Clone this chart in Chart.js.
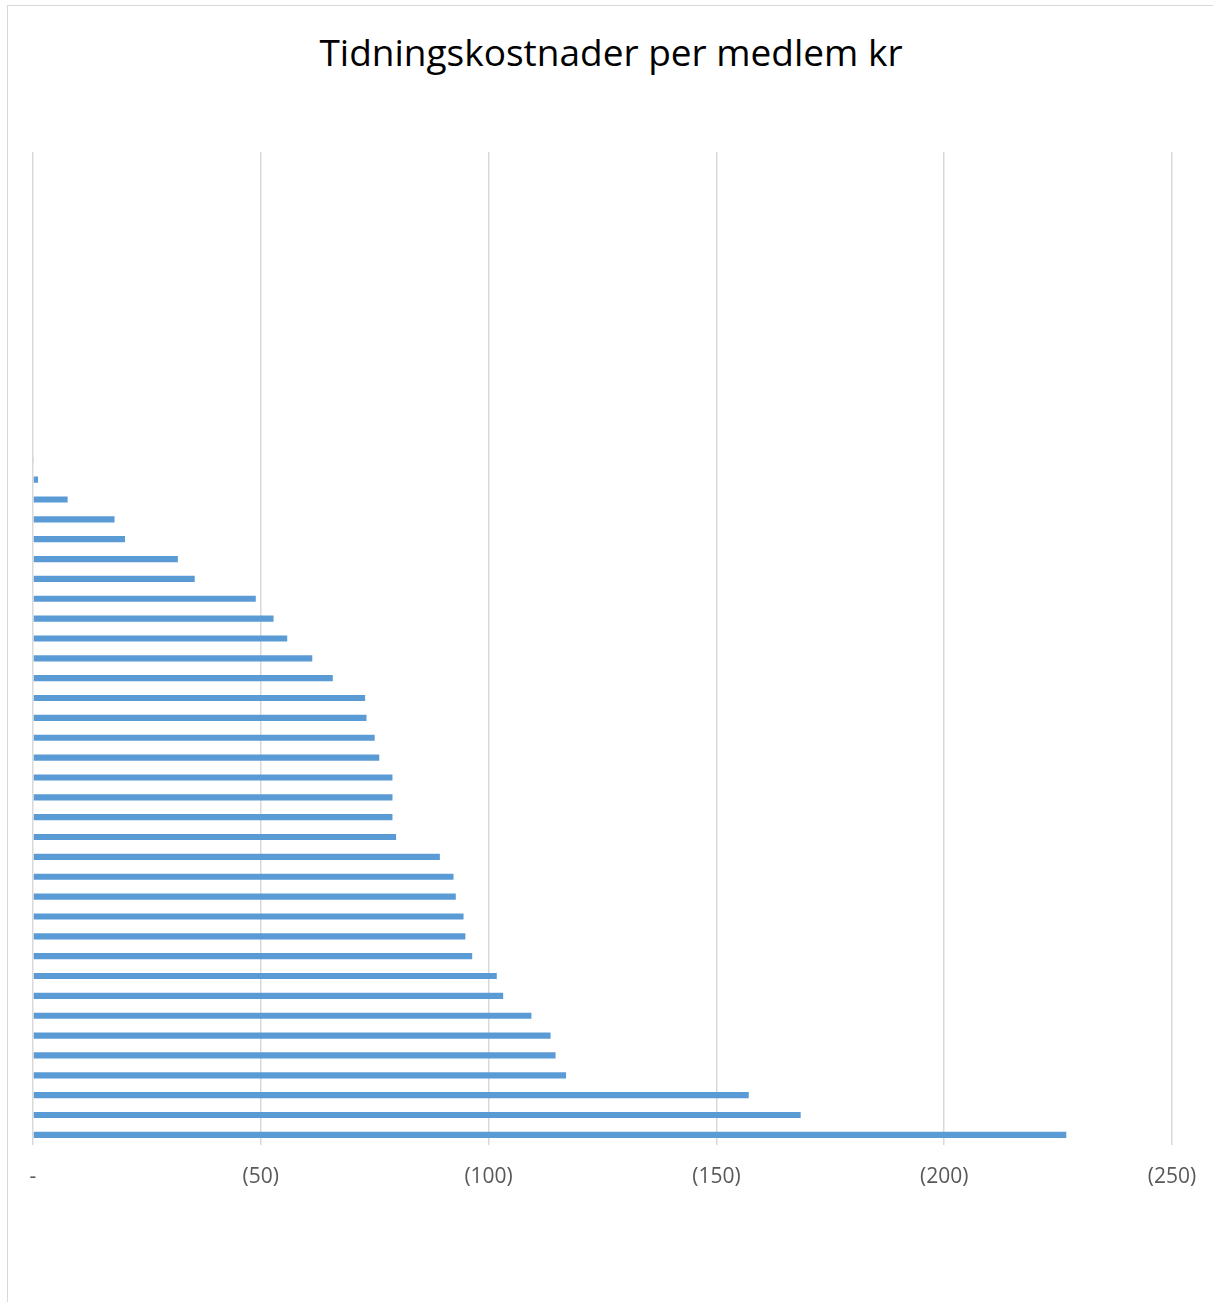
<!DOCTYPE html>
<html>
<head>
<meta charset="utf-8">
<script src="https://cdn.jsdelivr.net/npm/chart.js@4/dist/chart.umd.min.js"></script>
<style>
    html, body { margin: 0; padding: 0; background: #fff; overflow: hidden; }
    #wrap { position: relative; width: 1213px; height: 1302px; }
    #frame {
        position: absolute; left: 7px; top: 5px;
        width: 1400px; height: 1500px;
        border: 1px solid #d9d9d9; box-sizing: border-box;
    }
    #title {
        position: absolute; left: 11px; width: 1200px; top: 30px;
        text-align: center;
        font-family: 'Open Sans', sans-serif; font-size: 37px; line-height: 44px;
        color: #000;
    }
    #chart { position: absolute; left: 0; top: 0; }
</style>
</head>
<body>
<div id="wrap">
    <div id="frame"></div>
    <div id="title"></div>
    <canvas id="chart" width="1213" height="1302"></canvas>
</div>
<script>
// ================= DATA =================
const title = 'Tidningskostnader per medlem kr';

// 50 categories, the top 15 have no value
const categories = Array(50).fill('');

const costs = [
    null, null, null, null, null, null, null, null, null, null,
    null, null, null, null, null,
    0.2, 1.1, 7.6, 17.9, 20.2, 31.8, 35.5, 48.9, 52.8, 55.8,
    61.3, 65.8, 72.9, 73.2, 75.0, 76.0, 78.9, 78.9, 78.9, 79.7,
    89.3, 92.3, 92.8, 94.5, 94.9, 96.4, 101.8, 103.2, 109.4, 113.6,
    114.7, 117.0, 157.1, 168.5, 226.8
];

const xTicks = [0, 50, 100, 150, 200, 250];

// accounting style: 0 -> "-", 50 -> "(50)"
function tickLabel(v) {
    return v === 0 ? '-' : '(' + v + ')';
}

document.getElementById('title').textContent = title;

// ================= CHART =================
const ctx = document.getElementById('chart');

new Chart(ctx, {
    type: 'bar',
    data: {
        labels: categories,
        datasets: [{
            data: costs,
            backgroundColor: '#5b9bd5',
            barPercentage: 0.62,
            categoryPercentage: 0.5
        }]
    },
    options: {
        indexAxis: 'y',
        responsive: false,
        animation: false,
        layout: {
            padding: { left: 33, right: 41, top: 152, bottom: 92 }
        },
        plugins: {
            legend: { display: false },
            tooltip: { enabled: false },
            title: { display: false }
        },
        scales: {
            x: {
                min: xTicks[0],
                max: xTicks[xTicks.length - 1],
                afterBuildTicks: axis => {
                    axis.ticks = xTicks.map(v => ({ value: v }));
                },
                // keep the plot edges where the layout padding puts them
                afterFit: axis => {
                    axis.paddingLeft = 0;
                    axis.paddingRight = 0;
                },
                border: { display: false },
                grid: { color: '#d9d9d9', lineWidth: 1.5, drawTicks: false },
                ticks: {
                    callback: v => tickLabel(v),
                    color: '#595959',
                    padding: 20,
                    maxRotation: 0,
                    font: { family: 'Open Sans', size: 21 }
                }
            },
            y: {
                display: false
            }
        }
    }
});
</script>
</body>
</html>
